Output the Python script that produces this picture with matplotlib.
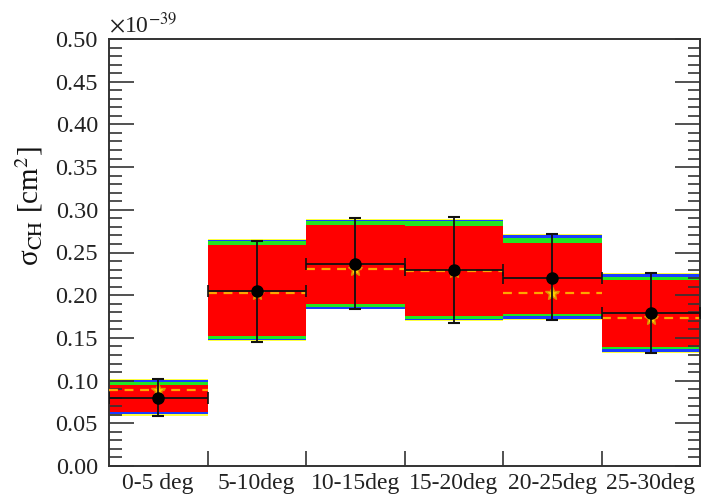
import matplotlib
matplotlib.use("Agg")
import matplotlib.pyplot as plt
import numpy as np
from matplotlib.ticker import MultipleLocator

plt.rcParams['font.family'] = ['Liberation Serif', 'DejaVu Serif']
plt.rcParams['mathtext.fontset'] = 'stix'

labels = ['0-5 deg', '5-10deg', '10-15deg', '15-20deg', '20-25deg', '25-30deg']
data = [0.0795, 0.2045, 0.2365, 0.2290, 0.2198, 0.1790]
err_hi = [0.1015, 0.2630, 0.2907, 0.2912, 0.2717, 0.2264]
err_lo = [0.0589, 0.1450, 0.1833, 0.1678, 0.1710, 0.1319]
mc = [0.0890, 0.2026, 0.2307, 0.2285, 0.2022, 0.1729]

yellow_top = [0.1015, 0.2660, 0.2892, 0.2892, 0.2713, 0.2256]
yellow_bot = [0.0589, 0.1464, 0.1833, 0.1694, 0.1710, 0.1327]
blue_top = [0.1007, 0.2650, 0.2880, 0.2880, 0.2702, 0.2245]
blue_bot = [0.0605, 0.1475, 0.1844, 0.1710, 0.1721, 0.1338]
green_top = [0.0985, 0.2635, 0.2869, 0.2869, 0.2666, 0.2217]
green_bot = [0.0629, 0.1487, 0.1856, 0.1717, 0.1757, 0.1374]
red_top = [0.0952, 0.2590, 0.2822, 0.2810, 0.2608, 0.2178]
red_bot = [0.0636, 0.1520, 0.1897, 0.1756, 0.1780, 0.1397]

fig = plt.figure(figsize=(7.03, 4.97), dpi=100)
ax = fig.add_axes([109/703, 31/497, 591/703, 427/497])

n = len(labels)
x = np.arange(n) + 0.5
for tops, bots, col in [(yellow_top, yellow_bot, '#ffff40'),
                        (blue_top, blue_bot, '#1a3cff'),
                        (green_top, green_bot, '#22e622'),
                        (red_top, red_bot, '#ff0000')]:
    ax.bar(x, np.array(tops) - np.array(bots), bottom=bots, width=1.0,
           color=col, linewidth=0, zorder=1)

# MC dashed lines and stars
for i in range(n):
    ax.plot([i, i + 1], [mc[i], mc[i]], color='#ffa500', lw=1.6,
            dashes=(4, 3), zorder=3)
ax.plot(x, mc, linestyle='none', marker='*', markersize=10,
        markerfacecolor='#ffd000', markeredgecolor='#e09000', zorder=3)

# data horizontal bin lines
ax.errorbar(x, data, xerr=0.5, fmt='none', ecolor='#111111', elinewidth=1.3,
            capsize=4, capthick=1.2, zorder=4)
# vertical error bars
yerr = np.array([np.array(data) - np.array(err_lo), np.array(err_hi) - np.array(data)])
ax.errorbar(x, data, yerr=yerr, fmt='none', ecolor='#111111', elinewidth=1.3,
            capsize=4, capthick=1.5, zorder=4)
ax.plot(x, data, 'o', color='black', markersize=8, zorder=5)

ax.set_xlim(0, n)
ax.set_ylim(0, 0.5)
ax.set_xticks(np.arange(1, n))
ax.set_xticklabels([])
ax.set_xticks(x, minor=True)
ax.set_xticklabels(labels, minor=True, fontsize=17, color='#222222')
ax.tick_params(axis='x', which='minor', length=0, pad=5)
ax.tick_params(axis='x', which='major', direction='in', length=11, width=1.2,
               color='#333333', top=False)
ax.yaxis.set_major_locator(MultipleLocator(0.05))
ax.yaxis.set_minor_locator(MultipleLocator(0.01))
ax.set_yticks(np.arange(0, 0.501, 0.05))
ax.set_yticklabels(['%.2f' % v for v in np.arange(0, 0.501, 0.05)], fontsize=17.5,
                   color='#222222')
ax.tick_params(axis='y', which='major', direction='in', length=18, width=1.2,
               color='#333333', right=True, pad=8)
ax.tick_params(axis='y', which='minor', direction='in', length=9, width=1.2,
               color='#333333', right=True)
for s in ax.spines.values():
    s.set_linewidth(1.4)
    s.set_color('#333333')

ax.text(0.0, 1.003, r'$\times$10$^{-39}$', transform=ax.transAxes,
        fontsize=17, color='#222222', ha='left', va='bottom')
ax.text(-0.135, 0.75, r'σ$_{\mathrm{CH}}$ [cm$^{2}$]', transform=ax.transAxes,
        rotation=90, fontsize=21, color='#111111', ha='center', va='top')

fig.savefig('out.png', dpi=100)
